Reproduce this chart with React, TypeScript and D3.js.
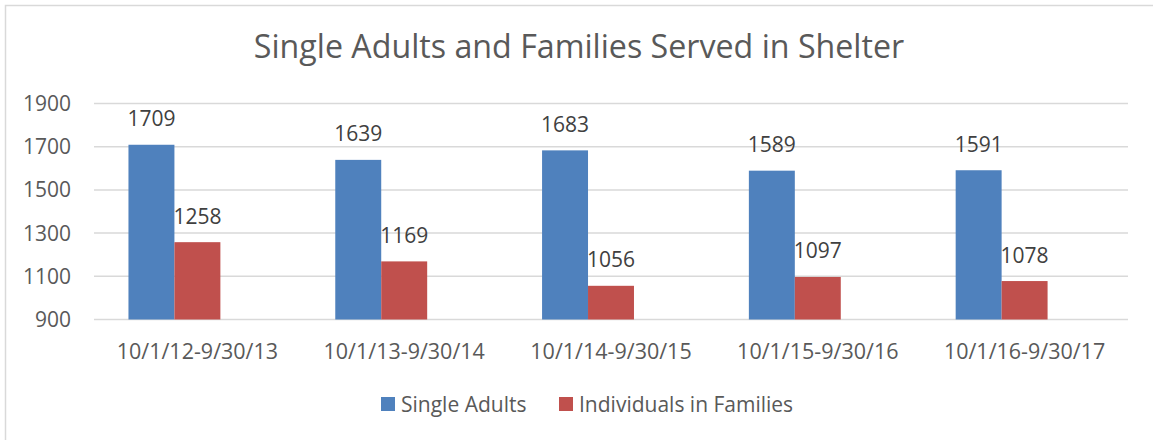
import React from "react";
import * as d3 from "d3";

const categories = ["10/1/12-9/30/13", "10/1/13-9/30/14", "10/1/14-9/30/15", "10/1/15-9/30/16", "10/1/16-9/30/17"];
const seriesNames = ["Single Adults", "Individuals in Families"];
const singleAdults = [1709, 1639, 1683, 1589, 1591];
const individualsInFamilies = [1258, 1169, 1056, 1097, 1078];
const yTicks = [900, 1100, 1300, 1500, 1700, 1900];
const title = "Single Adults and Families Served in Shelter";

const colors = ["#4F81BD", "#C0504D"];
const FONT = "'Open Sans', sans-serif";

export default function App() {
  const W = 1153, H = 440;
  const x0 = d3.scaleBand<string>().domain(categories).range([94, 1128]).paddingInner(0).paddingOuter(0);
  // three slots per category (third slot is an empty series in the original)
  const x1 = d3.scaleBand<string>().domain([...seriesNames, "_empty"]).range([0, x0.bandwidth()]).paddingInner(0).paddingOuter(0.75);
  const y = d3.scaleLinear().domain([900, 1900]).range([319.5, 103.5]);
  const seriesValues = [singleAdults, individualsInFamilies];

  return (
    <svg width={W} height={H} style={{ position: "fixed", left: 0, top: 0, background: "#fff" }} fontFamily={FONT}>
      <rect x={0} y={0} width={W} height={H} fill="#fff" />
      <rect x={5.5} y={5.5} width={W + 10} height={H + 10} fill="none" stroke="#d9d9d9" strokeWidth={1.5} />
      <text x={579} y={58} textAnchor="middle" fontSize={32.2} fill="#595959">{title}</text>
      {yTicks.map((t) => (
        <g key={t}>
          <line x1={94} x2={1128} y1={y(t)} y2={y(t)} stroke="#d9d9d9" strokeWidth={1.5} />
          <text x={71} y={y(t) + 7.5} textAnchor="end" fontSize={21} fill="#595959">{t}</text>
        </g>
      ))}
      {categories.map((c, i) => (
        <g key={c}>
          {seriesNames.map((s, j) => {
            const v = seriesValues[j][i];
            const bx = (x0(c) ?? 0) + (x1(s) ?? 0);
            const bw = x1.bandwidth();
            return (
              <g key={s}>
                <rect x={bx} y={y(v)} width={bw} height={y(900) - y(v)} fill={colors[j]} />
                <text x={bx + bw / 2} y={y(v) - 18.5} textAnchor="middle" fontSize={21} fill="#404040">{v}</text>
              </g>
            );
          })}
          <text x={(x0(c) ?? 0) + x0.bandwidth() / 2} y={358.5} textAnchor="middle" fontSize={21.5} fill="#595959">{c}</text>
        </g>
      ))}
      {seriesNames.map((s, j) => {
        const lx = [381, 559][j];
        return (
          <g key={s}>
            <rect x={lx} y={397} width={14} height={14} fill={colors[j]} />
            <text x={lx + 20} y={411.5} fontSize={21} fill="#595959">{s}</text>
          </g>
        );
      })}
    </svg>
  );
}
